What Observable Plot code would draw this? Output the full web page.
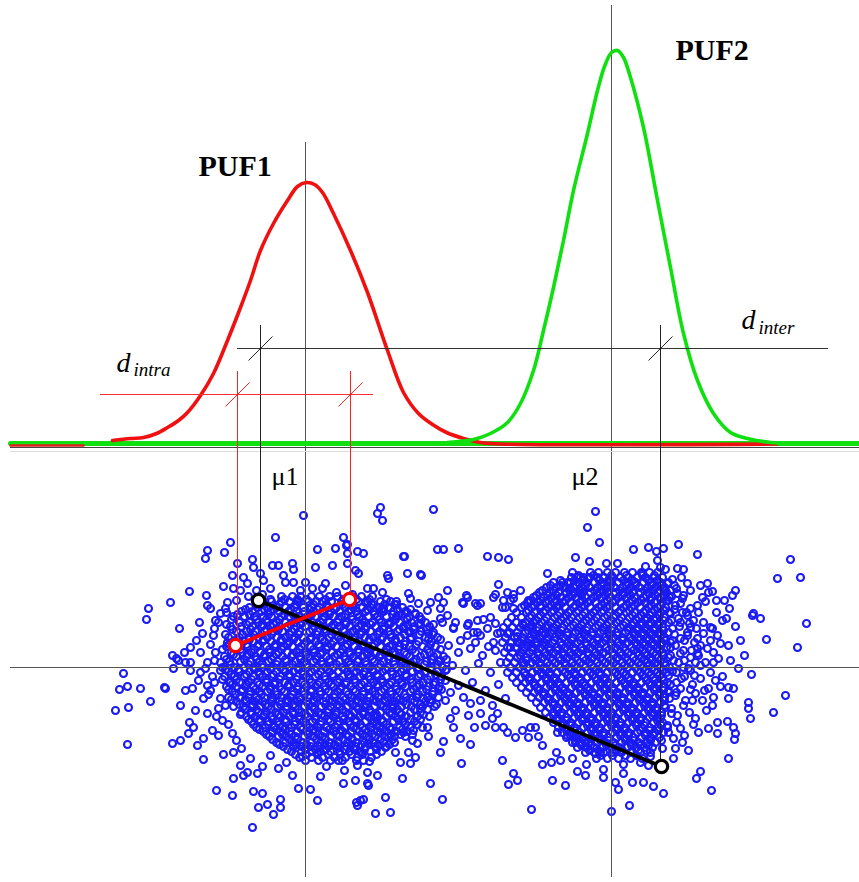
<!DOCTYPE html>
<html><head><meta charset="utf-8">
<script src="https://cdn.jsdelivr.net/npm/d3@7"></script>
<script src="https://cdn.jsdelivr.net/npm/@observablehq/plot@0.6"></script>
<style>html,body{margin:0;padding:0;background:#fff;}svg{display:block;}</style>
</head><body><div id="chart"></div>
<script>
// ---- distribution curves (x, y) ----
const puf1Curve = [[112,440],[130,438],[143,437],[156,433],[167,427],[178,420],[187,412],[200,395],[213,373],[227,340],[240,307],[250,280],[260,250],[273,223],[287,200],[297,186],[306,182],[314,184],[322,192],[333,213],[350,250],[367,292],[387,350],[403,392],[418,413],[432,424],[446,432],[463,438],[480,442],[500,443.5],[777,443.5]];
const puf2Curve = [[447,442],[473,439],[490,433],[507,422],[520,403],[533,370],[543,330],[553,287],[563,240],[573,190],[587,133],[597,90],[604,66],[611,52],[617,50],[623,57],[630,77],[643,127],[657,200],[670,267],[683,333],[697,380],[713,413],[730,432],[747,438],[770,442],[790,443]];
const baseline = [[10,443],[859,443]];
const puf1LeftTail = [[10,445],[83,445]];

// ---- means & reference lines ----
const meanX = [305, 611];
const meanTop = [142, 5];
const bottomY = 877;
const scatterCentreY = 667;
const axisY = 447;

// ---- distance markers ----
const interY = 348, interX1 = 237, interX2 = 828;
const interTicks = [260, 660];
const interTop = 325;
const intraY = 394, intraX1 = 100, intraX2 = 373;
const intraTicks = [237, 350];
const intraTop = 371;
const intraPts = [[235,645],[349,599]];
const interPts = [[258,600],[661,766]];

// ---- labels ----
const titles = ["PUF1", "PUF2"], titleX = [198, 675], titleY = [175, 59];
const muLabels = ["\u03bc1", "\u03bc2"], muX = [271, 571], muY = [484, 484];
const dLabels = ["d", "d"], dX = [116, 741], dY = [371, 328];
const subLabels = ["intra", "inter"], subX = [133, 758], subY = [375, 333];

// ---- scatter: sparse points ----
const leftSparse = [[303,515],[275,537],[230,542],[207,550],[205,558],[224,552],[317,549],[335,548],[343,537],[347,544],[357,551],[363,553],[237,563],[252,559],[253,567],[272,565],[278,565],[292,563],[293,569],[315,567],[332,565],[232,575],[243,577],[247,583],[260,573],[263,580],[283,575],[285,582],[293,582],[305,582],[325,583],[322,588],[189,591],[223,586],[233,588],[170,602],[148,608],[146,619],[206,595],[207,605],[227,602],[225,608],[199,622],[215,620],[220,613],[179,628],[202,633],[190,647],[172,655],[176,658],[185,662],[380,507],[377,513],[382,520],[404,556],[407,573],[421,575],[387,575],[388,578],[346,545],[347,553],[347,563],[355,570],[358,573],[345,585],[367,588],[373,588],[382,592],[408,593],[410,598],[365,602],[373,604],[383,608],[390,601],[398,615],[407,612],[415,613],[403,556],[420,574],[210,608],[218,622],[213,635],[227,642],[200,652],[215,652],[178,660],[190,662],[207,662],[220,662],
[123,673],[119,689],[127,686],[140,688],[164,687],[150,701],[115,710],[128,707],[180,705],[165,688],[185,690],[192,688],[127,744],[172,743],[180,740],[188,733],[203,759],[197,745],[203,738],[195,710],[207,713],[189,722],[193,727],[212,730],[218,735],[223,754],[233,752],[216,790],[232,795],[233,778],[253,791],[262,793],[258,807],[267,804],[273,814],[280,807],[280,799],[252,827],[278,768],[298,788],[310,789],[317,800],[317,752],[302,756],[240,765],[247,772],[257,773],[243,775],[270,755],[360,800],[357,805],[375,813],[390,812],[385,797],[402,778],[377,775],[343,783],[367,783],[430,783],[442,799],[356,802],[363,799],[368,785],[355,780],[367,772],[357,765],[400,762],[410,763],[415,757],[408,752],[385,747],[395,752],[353,748],[361,752],[369,761],[363,760],[368,743],[380,732],[388,737],[402,721],[403,732],[413,730],[417,743],[412,740],[427,727],[428,736],[373,715],[363,712],[372,723],[392,708],[420,708],[430,702],[423,698],[173,668],[190,670],[200,672],[220,670],[207,685],[210,690],[203,698],[220,698],[225,705],[230,682],
[196,640],[184,652],[212,676],[198,680],[216,716],[228,724],[236,740],[250,758],[262,766],[286,762],[292,775],[326,766],[338,760],[344,770],[320,776],[240,590],[256,590],[270,588],[300,590],[312,588],[336,592],[352,594],[396,604],[418,603],
[214,628],[210,644],[205,668],[214,660],[208,694],[218,708],[214,682],[222,720],[232,733],[241,748],[226,612],[236,600],[248,596],[262,594]];

const bridgeSparse = [[433,509],[437,549],[443,549],[458,548],[487,556],[498,557],[508,559],[547,573],[575,557],[447,590],[438,597],[466,595],[462,602],[475,603],[480,603],[498,584],[495,594],[507,592],[513,594],[520,590],[510,600],[505,607],[528,600],[540,605],[427,610],[430,602],[440,608],[447,615],[455,622],[440,618],[442,622],[468,623],[477,620],[483,619],[495,623],[487,628],[480,635],[473,632],[467,635],[453,628],[522,623],[533,622],[428,633],[433,632],[418,623],[403,628],[410,632],[390,623],[517,642],[510,647],[527,645],[537,642],[493,597],[503,600],[513,598],[467,597],[463,603],[477,605],[443,602],[502,607],[513,608],[548,600],[557,605],[490,617],[453,627],[467,625],[477,632],[532,627],[497,633],[507,633],[517,636],[493,642],[547,627],[545,633],
[445,700],[470,703],[453,727],[474,727],[443,741],[440,752],[470,744],[461,763],[502,760],[513,773],[517,780],[508,784],[531,809],[542,764],[551,762],[556,752],[552,780],[565,785],[577,771],[542,745],[538,736],[528,737],[522,730],[515,737],[507,732],[503,727],[495,727],[492,718],[497,713],[530,727],[535,727],[557,732],[567,735],[575,742],
[448,645],[458,652],[470,648],[482,655],[495,650],[452,665],[465,670],[478,663],[490,672],[500,662],[445,680],[458,685],[472,682],[485,690],[498,684],[450,692],[463,697],[480,700],[492,705],[505,698],[440,660],[445,670],[460,640],[475,642],[488,646],[438,688],[455,710],[468,715],[480,713],[485,725],[460,738],[450,718]];

const rightSparse = [[595,511],[587,527],[599,542],[633,549],[648,547],[656,551],[663,548],[678,544],[697,554],[589,561],[606,563],[617,563],[645,566],[642,573],[657,560],[660,567],[665,569],[677,568],[683,569],[681,577],[687,583],[667,583],[707,583],[708,592],[705,601],[702,597],[712,591],[735,590],[732,595],[729,608],[726,618],[735,626],[753,613],[760,618],[790,559],[777,578],[800,577],[806,623],[766,639],[797,647],[730,660],[690,608],[687,615],[680,622],[712,628],[717,635],[720,643],[713,652],[718,658],[697,648],[698,655],[705,662],[690,657],[680,638],[687,635],[690,590],[683,595],[677,593],[670,590],[697,605],[693,620],[690,627],[687,632],[710,627],[703,633],[697,638],[700,645],[707,648],[697,653],[752,615],[751,674],[785,695],[773,712],[748,702],[748,708],[750,718],[720,686],[728,687],[733,688],[728,698],[713,697],[712,705],[695,718],[693,724],[708,728],[717,722],[717,733],[727,721],[733,727],[735,733],[734,739],[673,738],[688,750],[673,758],[728,758],[700,771],[696,778],[711,790],[663,793],[653,786],[643,782],[632,782],[629,805],[611,811],[618,789],[615,782],[623,773],[623,764],[603,769],[603,777],[585,775],[600,752],[595,753],[585,742],[648,765],[640,762],[671,708],[677,715],[572,572],[577,577],[583,577],[589,577],[603,577],[610,580],[607,587],[567,582],[569,588],[580,590],
[668,675],[676,682],[684,676],[692,684],[700,678],[708,688],[675,695],[685,700],[695,693],[702,700],[664,705],[680,688],[690,670],[700,665],[710,672],[715,680],[706,710],[660,718],[667,725],[680,728],[668,600],[675,605],[682,598],[670,613],[678,618],[672,628],[665,640],[675,645],[683,650],[670,655],[678,662],[688,668],[665,590],
[560,760],[572,758],[586,764],[650,756],[662,748],[682,742],[698,732],[722,676],[738,668],[744,655],[728,645],[740,640],[724,600],[716,612],
[672,640],[684,660],[694,642],[676,672],[692,700],[668,690],[682,612],[696,628],[664,610],[674,585],
[672,579],[676,588],[671,596],[680,603],[674,609],[686,612],[671,620],[679,626],[689,623],[674,634],[684,640],[670,647],[680,653],[691,650],[673,660],[683,667],[695,662],[672,671],[681,678],[670,684],[690,689],[676,692],[669,698],[683,705],[671,713],[689,712],[676,722],[668,732],[684,735],[661,740],[675,748],[698,612],[703,622],[694,675],[704,690],[713,662],[710,640],[700,585],[716,600],[722,620]];

// ---- scatter: dense cores, estimated row by row ([y, x, x, ...]) ----
const leftCoreRows = [
[596,281,292,300,311,319,329,337,351,361,372],
[601,262,271,281,289,298,308,316,322,331,341,348,358,367,380,396],
[607,249,257,268,276,285,294,303,311,319,328,336,345,353,362,370,379,388,402],
[611,241,252,261,270,279,288,296,304,313,322,330,339,348,356,365,373,383,393,405],
[616,233,244,254,263,271,281,289,298,307,315,324,333,341,351,359,368,377,386,396,409,419],
[622,239,249,258,267,276,285,294,302,312,320,329,337,346,355,364,372,381,390,399,411,425],
[626,230,241,252,261,270,279,287,296,305,314,322,331,340,349,358,366,375,384,393,403,414,429],
[631,236,246,255,264,273,282,291,299,309,317,326,335,344,352,361,370,379,388,397,408,421],
[637,228,239,249,258,267,276,285,294,302,311,320,329,338,346,355,364,373,382,391,400,411,425,437],
[641,233,243,253,262,271,280,289,297,306,315,324,333,341,350,359,368,377,386,395,405,418,431],
[646,226,237,247,257,266,274,283,292,301,310,319,327,336,345,354,362,372,380,389,399,409,422,435],
[652,231,242,251,260,269,278,287,296,305,314,322,331,340,349,358,367,376,384,394,404,415,429],
[656,224,236,246,255,264,273,282,291,299,308,317,326,334,344,353,362,370,379,389,398,409,420,433,443],
[661,229,240,250,259,268,277,286,295,304,313,321,330,339,348,357,365,374,383,393,402,413,426,438],
[667,222,234,244,253,262,271,280,289,298,307,316,325,333,342,351,360,369,378,387,396,406,418,431,442],
[671,228,239,249,258,267,276,285,293,302,311,320,329,338,347,356,364,373,382,391,401,412,425,437],
[676,224,234,244,253,262,271,280,289,297,306,315,324,333,342,350,359,368,377,386,396,406,418,430,441],
[682,229,239,248,257,266,275,284,293,302,311,319,328,337,346,355,364,373,382,391,401,412,423,435],
[686,226,236,245,253,262,270,279,288,297,306,315,324,333,341,350,359,368,377,386,395,405,416,428,439],
[691,232,241,250,259,267,275,284,293,302,311,320,328,337,346,355,363,372,381,390,399,410,422,433],
[697,228,239,248,256,264,272,281,290,299,308,316,325,334,343,351,360,369,378,387,396,406,416,427,438],
[701,236,246,254,262,271,279,288,297,306,314,323,332,340,349,358,367,376,385,394,403,414,425],
[706,233,243,252,260,268,277,286,295,304,312,321,330,339,347,356,365,374,383,392,401,411,422,434],
[712,241,250,258,266,275,283,292,301,310,318,327,336,345,354,362,371,380,389,399,410,420],
[716,246,255,263,271,280,289,298,307,315,324,333,342,351,359,368,377,386,395,406,417,429],
[721,251,260,268,277,286,295,303,312,321,330,339,348,356,365,374,383,393,403,414],
[727,256,265,273,282,291,300,309,317,326,335,344,353,362,370,379,389,399,410,422],
[731,263,272,280,289,297,306,315,324,333,342,351,359,368,377,386,396,407],
[736,269,278,286,295,304,313,322,331,339,348,357,366,375,384,394,405],
[742,276,285,293,302,311,320,329,338,347,356,364,373,383,394],
[746,283,293,301,310,319,328,337,346,355,365,375,386],
[751,291,301,311,320,330,339,349,359,370,381],
[757,299,311,322,334,345,357,371]];

const leftCoreRowsB = [
[599,270,284,297,306,325,343,356,369,386],
[604,256,263,279,296,313,326,342,352,371,384,394],
[609,245,264,273,290,309,317,334,350,367,381,397,410],
[614,237,249,268,284,293,311,329,345,357,374,392,401,415],
[619,231,256,266,279,297,304,322,338,352,362,379,395,407,421],
[624,226,246,262,273,290,300,318,333,345,361,370,388,407,420,433],
[629,232,250,266,278,294,312,324,343,356,365,383,399,413,426],
[634,225,242,253,271,289,298,316,331,348,360,377,390,404,419,432],
[639,236,249,263,281,293,310,322,340,353,369,381,395,410,428,440],
[644,229,246,258,275,287,304,318,331,347,363,374,392,404,416,430],
[649,222,240,254,269,281,299,313,326,342,358,369,386,398,412,427,440],
[654,233,247,264,276,292,306,320,337,350,367,380,395,406,424,437],
[659,226,244,256,271,285,300,316,329,345,358,372,388,401,416,431,446],
[664,230,248,262,276,292,306,322,336,350,366,380,394,410,424,437],
[669,225,238,254,270,283,298,314,327,344,359,372,385,403,417,430,446],
[674,231,246,259,273,289,303,318,332,348,363,377,392,405,420,435],
[679,222,236,251,266,279,296,309,325,339,354,370,381,398,410,427,440],
[684,232,246,259,274,288,304,317,331,345,361,377,389,402,419,433],
[689,228,242,255,270,281,297,311,325,340,353,368,384,396,413,426,441],
[694,235,249,261,277,292,304,320,334,348,363,375,391,404,418,432],
[699,231,245,258,271,286,300,313,329,345,356,373,384,399,411,430],
[704,239,252,265,280,293,308,325,337,352,366,380,392,406,420,436],
[709,245,256,271,286,298,314,328,342,358,369,386,397,414,427],
[714,240,251,264,278,293,305,321,335,349,363,376,391,401,423],
[719,248,259,272,285,299,315,328,343,355,371,381,398,410,420],
[724,253,268,279,294,306,320,337,350,360,376,386,405,417],
[729,259,276,285,302,313,329,340,356,365,382,391,402],
[734,266,282,291,308,318,336,346,362,372,390,400,412],
[739,272,289,297,316,325,343,352,369,380,392],
[744,279,296,306,324,334,351,361,378,389],
[749,287,305,315,325,344,354,364,376],
[754,295,306,317,328,340,351,362,376],
[760,305,318,330,342,356]];

const rightCoreRows = [
[572,590,598,607,615,624,632,641,649,657],
[577,571,580,588,597,604,612,620,628,637,645,653,662],
[582,553,562,570,578,586,594,602,610,618,627,635,643,651,660,668],
[587,546,556,565,573,581,589,597,606,614,622,630,639,647,655,664],
[592,539,549,558,566,574,582,590,599,607,615,623,632,640,648,657,666],
[597,533,543,551,560,568,576,585,593,601,609,618,626,634,643,651,660,669],
[602,527,537,545,554,562,570,579,587,595,604,612,620,629,637,645,654,662],
[607,521,531,540,548,556,565,573,581,590,598,606,615,623,631,640,648,657,665],
[612,516,526,534,543,551,559,568,576,584,593,601,609,618,626,634,643,651,660,669],
[617,511,521,529,538,546,554,563,571,579,588,596,604,613,621,629,638,646,655,664],
[622,507,516,525,533,541,550,558,566,575,583,591,600,608,616,625,633,641,650,659,668],
[627,503,512,520,529,537,545,553,562,570,578,587,595,603,612,620,628,637,645,654,662],
[632,500,509,517,525,533,542,550,558,567,575,583,592,600,608,617,625,633,642,650,659,668],
[637,505,514,522,530,539,547,555,563,572,580,588,597,605,613,622,630,638,647,655,664],
[642,502,511,519,527,535,544,552,560,568,577,585,593,602,610,618,627,635,643,652,661,670],
[647,507,515,524,532,540,548,557,565,573,581,590,598,606,615,623,631,640,648,657,666],
[652,504,512,521,529,537,545,553,562,570,578,587,595,603,612,620,628,637,645,653,662],
[657,509,517,526,534,542,550,559,567,575,583,592,600,608,617,625,633,641,650,658,668],
[662,506,514,523,531,539,547,555,564,572,580,589,597,605,613,622,630,638,647,655,664],
[667,510,519,527,536,544,552,560,569,577,585,593,602,610,618,627,635,643,652,660,669],
[672,507,516,524,532,541,549,557,565,574,582,590,599,607,615,623,632,640,648,657,666],
[677,512,521,529,537,546,554,562,570,579,587,595,604,612,620,628,637,645,653,662],
[682,516,525,533,541,550,558,566,575,583,591,600,608,616,624,633,641,649,658,667],
[687,521,529,537,546,554,562,571,579,587,596,604,612,620,629,637,645,654,663],
[692,526,534,543,551,559,567,576,584,592,600,609,617,625,634,642,650,659,668],
[697,531,539,547,556,564,572,580,589,597,605,614,622,630,638,647,655,664],
[702,536,544,552,561,569,577,585,594,602,610,618,627,635,643,652,660],
[707,540,549,557,565,573,582,590,598,607,615,623,631,640,648,656,665],
[712,545,553,561,570,578,586,594,603,611,619,628,636,644,652,661],
[717,549,557,566,574,582,590,599,607,615,624,632,640,649,657],
[722,553,562,570,578,587,595,603,611,620,628,636,645,653,662],
[727,558,566,574,583,591,599,607,616,624,632,641,649,658,667],
[732,562,570,579,587,595,603,612,620,628,637,645,654,663],
[737,566,575,583,591,599,608,616,624,633,641,650,659],
[742,572,580,588,597,605,613,621,630,638,647,655],
[747,577,586,594,602,611,619,627,636,644,652],
[752,585,594,603,612,621,630,640,650],
[758,596,607,618,630,642]];

const rightCoreRowsB = [
[575,578,593,611,626,642,654],
[580,560,574,583,599,608,623,632,648,657],
[585,550,560,576,585,601,610,626,635,651,660],
[590,542,553,569,579,594,603,619,628,644,653],
[595,536,547,556,572,581,597,605,622,630,646,655,664],
[600,530,540,556,565,582,590,607,615,632,641,650,666],
[605,524,534,551,559,575,584,601,609,626,634,651,660],
[610,528,545,553,570,578,595,603,620,629,645,654,663],
[615,531,540,557,566,582,591,607,615,632,641,650,659],
[620,536,544,561,569,586,594,611,619,636,645,654,663],
[625,523,531,548,556,573,581,598,606,623,632,641,649,658],
[630,528,536,553,561,578,586,603,611,628,637,646,654,663],
[635,534,542,559,567,584,592,609,617,634,643,651,660],
[640,521,529,546,554,571,580,597,605,622,631,639,648,656,665],
[645,536,544,561,569,586,594,611,619,636,644,653,661],
[650,523,532,549,557,574,582,599,608,625,633,642,650,659],
[655,520,538,546,563,571,588,596,613,621,638,646,655,663],
[660,526,535,552,560,577,585,602,610,627,635,644,651,660],
[665,523,540,549,565,574,591,599,616,624,640,648,657,665],
[670,537,545,562,570,587,595,612,620,637,645,654,662],
[675,525,542,550,567,575,592,600,617,625,642,650,659],
[680,529,546,554,571,580,596,604,621,629,646,654,663],
[685,534,550,559,575,584,600,608,625,633,650,658],
[690,538,555,563,580,588,604,613,629,638,654,663],
[695,543,560,568,585,593,609,617,634,642,659],
[700,548,565,573,590,598,614,622,639,647,664],
[705,553,569,578,594,602,619,627,644,652],
[710,557,574,582,599,607,623,632,648,656],
[715,553,561,578,586,603,611,628,636,652,661],
[720,557,566,582,591,607,615,632,640,657],
[725,562,570,587,595,611,620,636,644,661],
[730,566,574,591,599,616,624,640,649,658],
[735,570,579,595,603,620,628,645,653],
[740,575,584,600,608,625,633,650],
[745,581,590,606,615,631,640,648],
[750,589,598,614,622,638,646],
[755,600,612,625,636]];

// ---- build tables ----
const pts = a => a.map(([x, y]) => ({x, y}));
const rows = r => r.flatMap(([y, ...xs]) => xs.map(x => ({x, y})));
const scatter = [...pts(leftSparse), ...pts(bridgeSparse), ...pts(rightSparse),
  ...rows(leftCoreRows), ...rows(leftCoreRowsB), ...rows(rightCoreRows), ...rows(rightCoreRowsB)];
const meanLines = meanX.map((x, i) => ({x, y1: meanTop[i], y2: bottomY}));
const slash = (xs, y, h) => xs.map(x => ({x1: x - h, y1: y + h, x2: x + h, y2: y - h}));
const serif = "Liberation Serif, Times New Roman, serif";

const chart = Plot.plot({
  width: 859, height: 882, margin: 0,
  x: {domain: [0, 859], range: [0, 859], axis: null},
  y: {domain: [0, 882], range: [0, 882], axis: null},
  style: {background: "#fff"},
  marks: [
    Plot.dot(scatter, {x: "x", y: "y", r: 3.5, stroke: "#1a1af2", strokeWidth: 2.1, fill: "none"}),
    Plot.ruleX(meanLines, {x: "x", y1: "y1", y2: "y2", stroke: "#555", strokeWidth: 1}),
    Plot.ruleY([scatterCentreY], {x1: 10, x2: 859, stroke: "#555", strokeWidth: 1}),
    Plot.ruleY([axisY], {x1: 10, x2: 859, stroke: "#444", strokeWidth: 1}),
    Plot.ruleY([axisY + 4], {x1: 10, x2: 859, stroke: "#ddd", strokeWidth: 1}),
    Plot.line(pts(baseline), {x: "x", y: "y", stroke: "#10e010", strokeWidth: 5}),
    Plot.line(pts(puf1Curve), {x: "x", y: "y", stroke: "#f01010", strokeWidth: 3.6, curve: "catmull-rom"}),
    Plot.line(pts(puf1LeftTail), {x: "x", y: "y", stroke: "#e02020", strokeWidth: 2.5}),
    Plot.line(pts(puf2Curve), {x: "x", y: "y", stroke: "#10e010", strokeWidth: 3.6, curve: "catmull-rom"}),
    // inter-distance marker
    Plot.ruleY([interY], {x1: interX1, x2: interX2, stroke: "#333", strokeWidth: 1}),
    Plot.ruleX(interTicks, {y1: interTop, y2: d => d === interTicks[0] ? interPts[0][1] : interPts[1][1], stroke: "#222", strokeWidth: 1}),
    Plot.link(slash(interTicks, interY, 12), {x1: "x1", y1: "y1", x2: "x2", y2: "y2", stroke: "#222", strokeWidth: 1}),
    // intra-distance marker
    Plot.ruleY([intraY], {x1: intraX1, x2: intraX2, stroke: "#ff3030", strokeWidth: 1}),
    Plot.ruleX(intraTicks, {y1: intraTop, y2: d => d === intraTicks[0] ? intraPts[0][1] : intraPts[1][1], stroke: "#ff2020", strokeWidth: 1}),
    Plot.link(slash(intraTicks, intraY, 12), {x1: "x1", y1: "y1", x2: "x2", y2: "y2", stroke: "#ff2020", strokeWidth: 1}),
    // connecting segments
    Plot.link([0], {x1: interPts[0][0], y1: interPts[0][1], x2: interPts[1][0], y2: interPts[1][1], stroke: "#000", strokeWidth: 3.8}),
    Plot.link([0], {x1: intraPts[0][0], y1: intraPts[0][1], x2: intraPts[1][0], y2: intraPts[1][1], stroke: "#f00", strokeWidth: 3.8}),
    Plot.dot(pts(interPts), {x: "x", y: "y", r: 6.2, stroke: "#000", strokeWidth: 3.2, fill: "#fff"}),
    Plot.dot(pts(intraPts), {x: "x", y: "y", r: 6.2, stroke: "#f00", strokeWidth: 3.2, fill: "#fff"}),
    // labels
    Plot.text(titles, {x: (d, i) => titleX[i], y: (d, i) => titleY[i], text: d => d, textAnchor: "start", lineAnchor: "bottom", fontFamily: serif, fontWeight: "bold", fontSize: 30, fill: "#000"}),
    Plot.text(muLabels, {x: (d, i) => muX[i], y: (d, i) => muY[i], text: d => d, textAnchor: "start", lineAnchor: "bottom", fontFamily: serif, fontSize: 26, fill: "#000"}),
    Plot.text(dLabels, {x: (d, i) => dX[i], y: (d, i) => dY[i], text: d => d, textAnchor: "start", lineAnchor: "bottom", fontFamily: serif, fontStyle: "italic", fontSize: 28, fill: "#000"}),
    Plot.text(subLabels, {x: (d, i) => subX[i], y: (d, i) => subY[i], text: d => d, textAnchor: "start", lineAnchor: "bottom", fontFamily: serif, fontStyle: "italic", fontSize: 19, fill: "#000"})
  ]
});
document.getElementById("chart").append(chart);
</script>
</body></html>
